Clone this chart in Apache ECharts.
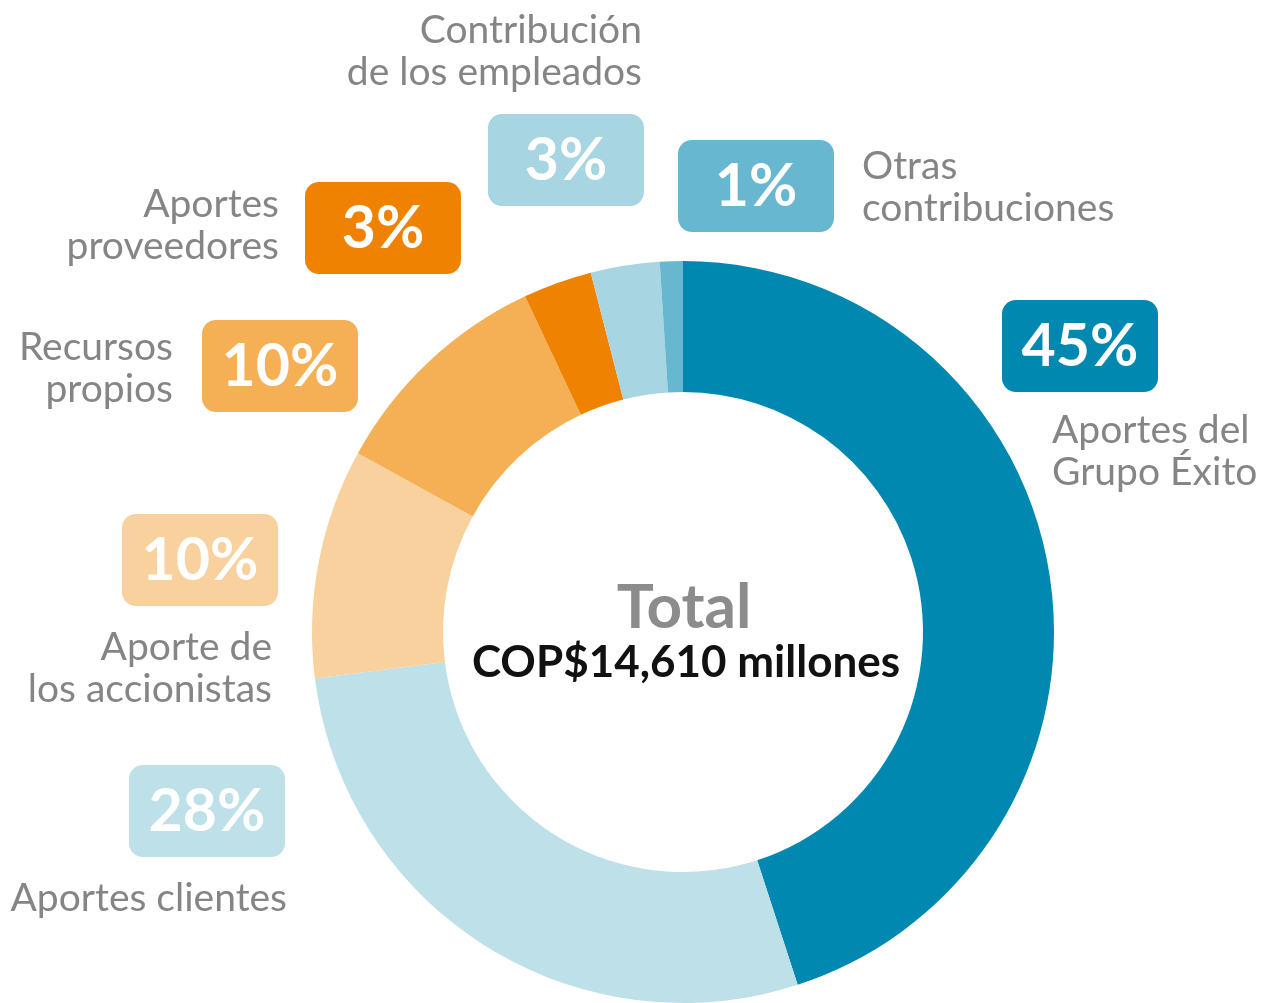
<!DOCTYPE html>
<html>
<head>
<meta charset="utf-8">
<script src="https://cdn.jsdelivr.net/npm/echarts@6/dist/echarts.min.js"></script>
<style>
  html, body { margin: 0; padding: 0; background: #fff; }
  #chart { width: 1270px; height: 1003px; }
</style>
</head>
<body>
<div id="chart"></div>
<script>
// datos del gráfico
var categorias = ['Aportes del\nGrupo Éxito', 'Aportes clientes', 'Aporte de\nlos accionistas', 'Recursos\npropios', 'Aportes\nproveedores', 'Contribución\nde los empleados', 'Otras\ncontribuciones']
var porcentajes = [45, 28, 10, 10, 3, 3, 1]
var colores = ['#0088B0', '#BEE0E8', '#F9D19E', '#F5B055', '#EF8200', '#A8D5E2', '#66B7CF']
var totalTitulo = 'Total'
var totalValor = 'COP$14,610 millones'

// posiciones de las etiquetas: caja [x, y], texto [x, y, alineación]
var cajas = [[1002, 300], [129, 765], [122, 514], [202, 320], [305, 182], [488, 114], [678, 140]]
var textos = [[1052, 409, 'left'], [287, 877, 'right'], [272, 626, 'right'], [173, 326, 'right'], [279, 183, 'right'], [642, 9, 'right'], [862, 145, 'left']]

var fuente = 'Lato, "Open Sans", sans-serif'
var gris = '#858585'

var chart = echarts.init(document.getElementById('chart'), null, { renderer: 'canvas' })

var graficos = []
porcentajes.forEach(function (v, i) {
    graficos.push({
        type: 'group',
        x: cajas[i][0],
        y: cajas[i][1],
        children: [{
            type: 'rect',
            shape: { x: 0, y: 0, width: 156, height: 92, r: 14 },
            style: { fill: colores[i] }
        }, {
            type: 'text',
            x: 78,
            y: 47,
            style: {
                text: v + '%',
                fill: '#fff',
                font: 'bold 59px ' + fuente,
                align: 'center',
                verticalAlign: 'middle'
            }
        }]
    })
    graficos.push({
        type: 'text',
        x: textos[i][0],
        y: textos[i][1],
        style: {
            text: categorias[i],
            fill: gris,
            font: 'normal 39px ' + fuente,
            lineHeight: 42,
            align: textos[i][2],
            verticalAlign: 'top'
        }
    })
})
graficos.push({
    type: 'text',
    x: 684,
    y: 608,
    style: { text: totalTitulo, fill: '#8C8C8C', font: 'bold 62px ' + fuente, align: 'center', verticalAlign: 'middle' }
})
graficos.push({
    type: 'text',
    x: 686,
    y: 663,
    style: { text: totalValor, fill: '#111', font: 'bold 44px ' + fuente, align: 'center', verticalAlign: 'middle' }
})

var option = {
    backgroundColor: '#fff',
    animation: false,
    series: [{
        type: 'pie',
        center: [683, 632],
        radius: [240, 371],
        startAngle: 90,
        clockwise: true,
        label: { show: false },
        labelLine: { show: false },
        itemStyle: { borderWidth: 0 },
        data: porcentajes.map(function (v, i) {
            return { value: v, name: categorias[i], itemStyle: { color: colores[i] } }
        })
    }],
    graphic: graficos
}
chart.setOption(option)
</script>
</body>
</html>
